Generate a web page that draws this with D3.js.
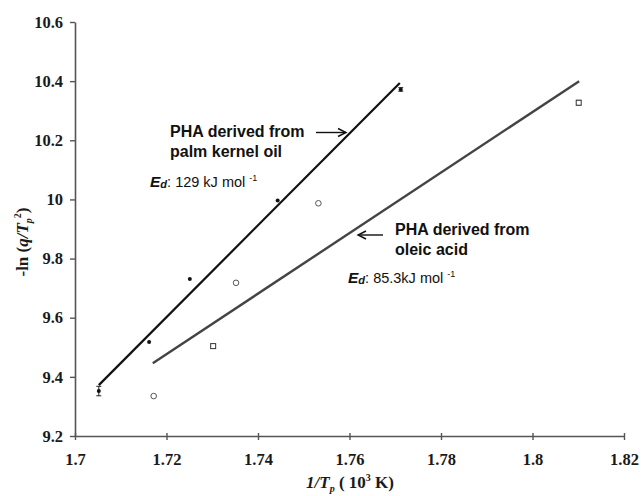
<!DOCTYPE html>
<html><head><meta charset="utf-8">
<script src="https://cdn.jsdelivr.net/npm/d3@7"></script>
<style>body{margin:0;background:#fff}</style>
</head><body>
<svg id="c" width="642" height="496"></svg>
<script>
// ---- data ----
const xTicks = [1.7, 1.72, 1.74, 1.76, 1.78, 1.8, 1.82];
const yTicks = [9.2, 9.4, 9.6, 9.8, 10, 10.2, 10.4, 10.6];
const palmX = [1.7052, 1.7162, 1.7251, 1.7443, 1.7712];
const palmY = [9.352, 9.518, 9.731, 9.996, 10.372];
const palmErr = [0.016, 0, 0, 0, 0.006];
const oleicX = [1.7172, 1.7302, 1.7352, 1.7532, 1.8101];
const oleicY = [9.335, 9.504, 9.718, 9.987, 10.327];
const oleicErr = [0, 0, 0, 0, 0.008];
const oleicShape = ["circle", "square", "circle", "circle", "square"];
const palmFitX = [1.7052, 1.7710];
const palmFitY = [9.372, 10.394];
const oleicFitX = [1.7170, 1.8102];
const oleicFitY = [9.446, 10.400];

const svg = d3.select("#c");
const x = d3.scaleLinear().domain([1.7, 1.82]).range([75, 624]);
const y = d3.scaleLinear().domain([9.2, 10.6]).range([436, 22]);

const serif = "'Liberation Serif','Times New Roman',serif";
const sans = "'Liberation Sans',Arial,sans-serif";

// axes
const xa = svg.append("g").attr("transform", "translate(0,436)")
  .call(d3.axisBottom(x).tickValues(xTicks).tickFormat(d3.format("")).tickSizeInner(4).tickSizeOuter(0).tickPadding(13));
const ya = svg.append("g").attr("transform", "translate(75,0)")
  .call(d3.axisLeft(y).tickValues(yTicks).tickFormat(d3.format("")).tickSizeInner(5).tickSizeOuter(0).tickPadding(12));
[xa, ya].forEach(a => {
  a.select(".domain").attr("stroke", "#555").attr("stroke-width", 1.6);
  a.selectAll(".tick line").attr("stroke", "#555").attr("stroke-width", 1.4);
  a.selectAll(".tick text").attr("fill", "#1a1a1a").style("font-family", serif)
    .style("font-weight", "bold").style("font-size", "16.5px");
});
xa.selectAll(".tick line").attr("y1", -3).attr("y2", 4);
ya.selectAll(".tick text").attr("x", -12);

// axis titles
const xt = svg.append("text").attr("x", 350).attr("y", 488).attr("text-anchor", "middle")
  .style("font-family", serif).style("font-weight", "bold").style("font-size", "17px").attr("fill", "#1a1a1a");
xt.append("tspan").style("font-style", "italic").text("1/T");
xt.append("tspan").style("font-style", "italic").style("font-size", "10px").attr("dy", 4).text("p");
xt.append("tspan").attr("dy", -4).text(" ( 10");
xt.append("tspan").style("font-size", "10px").attr("dy", -7).text("3");
xt.append("tspan").attr("dy", 7).text(" K)");

const yt = svg.append("text").attr("transform", "translate(28,242) rotate(-90)").attr("text-anchor", "middle")
  .style("font-family", serif).style("font-weight", "bold").style("font-size", "17px").attr("fill", "#1a1a1a");
yt.append("tspan").text("-ln (");
yt.append("tspan").style("font-style", "italic").text("q/T");
yt.append("tspan").style("font-style", "italic").style("font-size", "10px").attr("dy", 4).text("p");
yt.append("tspan").style("font-size", "10px").attr("dy", -11).text("2");
yt.append("tspan").attr("dy", 7).text(")");

// fit lines
const line = d3.line().x(d => x(d[0])).y(d => y(d[1]));
svg.append("path").datum(d3.zip(palmFitX, palmFitY)).attr("d", line)
  .attr("stroke", "#111").attr("stroke-width", 2.2).attr("fill", "none");
svg.append("path").datum(d3.zip(oleicFitX, oleicFitY)).attr("d", line)
  .attr("stroke", "#444").attr("stroke-width", 2.4).attr("fill", "none");

// error bars
function errBars(xs, ys, es, col) {
  const g = svg.append("g").attr("stroke", col).attr("stroke-width", 1);
  xs.forEach((xv, i) => {
    if (!es[i]) return;
    const cx = x(xv), y1 = y(ys[i] - es[i]), y2 = y(ys[i] + es[i]);
    g.append("line").attr("x1", cx).attr("x2", cx).attr("y1", y1).attr("y2", y2);
    g.append("line").attr("x1", cx - 2.5).attr("x2", cx + 2.5).attr("y1", y1).attr("y2", y1);
    g.append("line").attr("x1", cx - 2.5).attr("x2", cx + 2.5).attr("y1", y2).attr("y2", y2);
  });
}
errBars(palmX, palmY, palmErr, "#222");
errBars(oleicX, oleicY, oleicErr, "#444");

// palm points (filled)
svg.append("g").selectAll("circle").data(d3.zip(palmX, palmY)).join("circle")
  .attr("cx", d => x(d[0])).attr("cy", d => y(d[1])).attr("r", 2).attr("fill", "#111");

// oleic points (open)
const op = svg.append("g");
d3.zip(oleicX, oleicY, oleicShape).forEach(d => {
  if (d[2] === "circle") {
    op.append("circle").attr("cx", x(d[0])).attr("cy", y(d[1])).attr("r", 2.8)
      .attr("fill", "#fff").attr("stroke", "#555").attr("stroke-width", 1);
  } else {
    op.append("rect").attr("x", x(d[0]) - 2.5).attr("y", y(d[1]) - 2.5).attr("width", 5).attr("height", 5)
      .attr("fill", "#fff").attr("stroke", "#333").attr("stroke-width", 1);
  }
});

// annotations
function label(lines, x0, y0) {
  lines.forEach((t, i) => svg.append("text").attr("x", x0).attr("y", y0 + i * 19.5)
    .style("font-family", sans).style("font-weight", "bold").style("font-size", "16px")
    .attr("fill", "#111").text(t));
}
label(["PHA derived from", "palm kernel oil"], 170, 137);
label(["PHA derived from", "oleic acid"], 395, 235);

function arrow(x1, x2, yy) {
  const dir = Math.sign(x2 - x1);
  svg.append("line").attr("x1", x1).attr("x2", x2).attr("y1", yy).attr("y2", yy)
    .attr("stroke", "#111").attr("stroke-width", 1.4);
  svg.append("path").attr("d", `M${x2 - dir * 8},${yy - 4} L${x2},${yy} L${x2 - dir * 8},${yy + 4}`)
    .attr("stroke", "#111").attr("stroke-width", 1.4).attr("fill", "none");
}
arrow(316, 346, 132.5);
arrow(383, 358, 235);

function ed(x0, y0, val) {
  const t = svg.append("text").attr("x", x0).attr("y", y0)
    .style("font-family", sans).style("font-size", "14.5px").attr("fill", "#111");
  t.append("tspan").style("font-weight", "bold").style("font-style", "italic").style("font-size", "15.5px").text("E");
  t.append("tspan").style("font-weight", "bold").style("font-style", "italic").style("font-size", "11px").attr("dy", 1).text("d");
  t.append("tspan").attr("dy", -1).text(": " + val + " mol ");
  t.append("tspan").style("font-size", "9px").attr("dy", -6).text("-1");
}
ed(150, 187, "129 kJ");
ed(348, 283, "85.3kJ");
</script>
</body></html>
